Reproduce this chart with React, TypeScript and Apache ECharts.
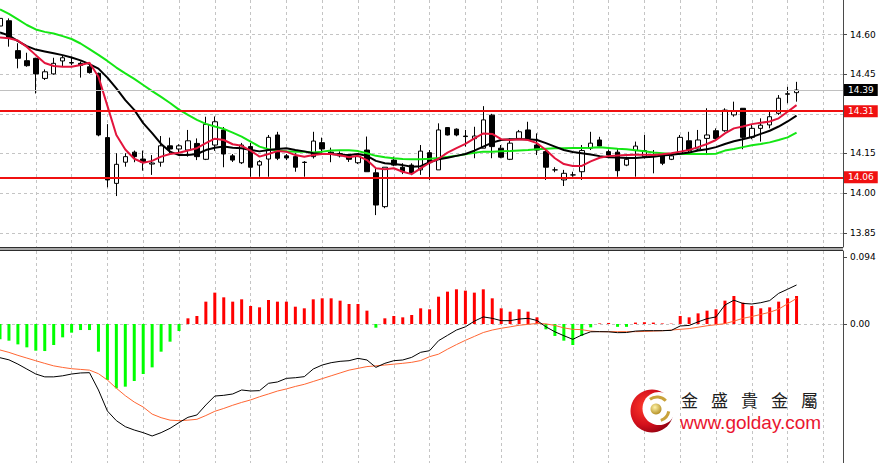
import React, { useEffect, useRef } from 'react';
import * as echarts from 'echarts';

// ---- Price candles (index 0..89) ----
const opens = [14.632,14.652,14.539,14.501,14.510,14.434,14.451,14.500,14.492,14.491,14.478,14.453,14.210,14.037,14.117,14.155,14.129,14.110,14.117,14.179,14.167,14.163,14.188,14.128,14.182,14.239,14.141,14.115,14.176,14.106,14.129,14.220,14.141,14.138,14.117,14.138,14.191,14.155,14.141,14.141,14.115,14.163,14.077,13.949,14.125,14.098,14.106,14.088,14.153,14.088,14.248,14.242,14.216,14.206,14.170,14.295,14.170,14.128,14.207,14.239,14.182,14.157,14.088,14.050,14.069,14.081,14.170,14.201,14.157,14.155,14.106,14.161,14.138,14.142,14.141,14.128,14.151,14.198,14.167,14.207,14.236,14.236,14.296,14.321,14.211,14.245,14.258,14.302,14.374,14.380];
const closes = [14.661,14.589,14.510,14.482,14.451,14.459,14.491,14.512,14.494,14.483,14.456,14.220,14.050,14.109,14.138,14.138,14.117,14.114,14.179,14.167,14.179,14.198,14.138,14.260,14.270,14.148,14.125,14.182,14.098,14.119,14.211,14.132,14.133,14.098,14.116,14.197,14.167,14.147,14.150,14.128,14.138,14.081,13.955,14.098,14.106,14.081,14.075,14.159,14.115,14.239,14.220,14.220,14.214,14.216,14.277,14.176,14.136,14.189,14.232,14.207,14.163,14.098,14.088,14.075,14.069,14.161,14.189,14.178,14.144,14.085,14.128,14.178,14.161,14.146,14.113,14.141,14.211,14.161,14.201,14.220,14.207,14.314,14.311,14.211,14.245,14.257,14.289,14.359,14.376,14.390];
const lows = [14.625,14.554,14.472,14.478,14.377,14.428,14.448,14.478,14.484,14.437,14.452,14.215,14.022,13.989,14.100,14.117,14.085,14.069,14.100,14.151,14.151,14.138,14.125,14.125,14.160,14.098,14.118,14.110,14.062,14.062,14.062,14.125,14.125,14.081,14.062,14.131,14.146,14.117,14.135,14.118,14.110,14.081,13.917,13.943,14.102,14.072,14.068,14.069,14.050,14.088,14.218,14.215,14.176,14.132,14.170,14.132,14.132,14.125,14.201,14.201,14.144,14.050,14.079,14.027,14.062,14.050,14.163,14.176,14.140,14.062,14.102,14.062,14.131,14.075,14.106,14.125,14.144,14.151,14.163,14.144,14.201,14.232,14.289,14.166,14.204,14.195,14.245,14.296,14.340,14.346];
const highs = [14.690,14.661,14.567,14.531,14.512,14.468,14.512,14.519,14.516,14.498,14.487,14.456,14.261,14.151,14.151,14.161,14.161,14.144,14.216,14.210,14.185,14.239,14.207,14.289,14.290,14.250,14.148,14.190,14.190,14.125,14.220,14.232,14.148,14.151,14.121,14.232,14.210,14.172,14.158,14.148,14.146,14.214,14.098,14.098,14.138,14.113,14.113,14.182,14.163,14.264,14.250,14.245,14.239,14.251,14.329,14.300,14.182,14.207,14.239,14.270,14.226,14.163,14.098,14.088,14.081,14.182,14.232,14.213,14.165,14.168,14.138,14.195,14.220,14.163,14.148,14.145,14.220,14.232,14.239,14.321,14.245,14.321,14.346,14.321,14.260,14.283,14.308,14.371,14.402,14.421];

// ---- Moving averages ----
const maRed = [14.589,14.586,14.577,14.553,14.522,14.492,14.481,14.478,14.478,14.485,14.493,14.440,14.330,14.220,14.165,14.130,14.115,14.122,14.138,14.148,14.153,14.161,14.170,14.189,14.206,14.201,14.185,14.179,14.161,14.138,14.148,14.159,14.157,14.144,14.138,14.144,14.148,14.148,14.143,14.136,14.141,14.125,14.094,14.090,14.094,14.081,14.072,14.094,14.115,14.130,14.153,14.170,14.186,14.207,14.226,14.224,14.204,14.201,14.204,14.201,14.189,14.163,14.132,14.110,14.103,14.103,14.120,14.134,14.140,14.142,14.144,14.145,14.145,14.144,14.147,14.151,14.157,14.163,14.174,14.186,14.201,14.226,14.245,14.252,14.261,14.266,14.271,14.283,14.308,14.333];
const maBlack = [14.608,14.596,14.575,14.556,14.543,14.536,14.529,14.522,14.513,14.502,14.488,14.471,14.437,14.396,14.352,14.315,14.265,14.227,14.186,14.157,14.144,14.144,14.148,14.163,14.172,14.176,14.172,14.170,14.163,14.158,14.163,14.167,14.170,14.163,14.158,14.151,14.148,14.148,14.145,14.144,14.148,14.141,14.122,14.113,14.110,14.106,14.100,14.102,14.117,14.128,14.134,14.141,14.148,14.161,14.176,14.191,14.201,14.204,14.204,14.204,14.201,14.189,14.176,14.163,14.156,14.151,14.146,14.140,14.136,14.135,14.133,14.133,14.136,14.138,14.142,14.145,14.149,14.154,14.161,14.166,14.174,14.186,14.196,14.204,14.212,14.224,14.236,14.252,14.271,14.293];
const maGreen = [14.695,14.678,14.657,14.636,14.619,14.610,14.604,14.594,14.583,14.566,14.545,14.523,14.500,14.475,14.453,14.432,14.409,14.386,14.364,14.341,14.316,14.296,14.277,14.262,14.252,14.243,14.229,14.214,14.195,14.176,14.166,14.161,14.158,14.157,14.157,14.154,14.157,14.161,14.162,14.162,14.159,14.151,14.141,14.136,14.132,14.129,14.128,14.128,14.130,14.133,14.137,14.141,14.147,14.153,14.157,14.157,14.158,14.159,14.161,14.163,14.166,14.168,14.170,14.170,14.171,14.171,14.172,14.174,14.171,14.168,14.166,14.162,14.158,14.154,14.151,14.148,14.148,14.148,14.148,14.148,14.149,14.161,14.167,14.174,14.181,14.186,14.192,14.201,14.211,14.229];

// ---- MACD pane ----
const macdHist = [-0.0216,-0.0235,-0.0287,-0.0329,-0.0376,-0.0381,-0.0296,-0.0188,-0.0122,-0.0085,-0.0085,-0.0390,-0.0789,-0.0907,-0.0883,-0.0803,-0.0705,-0.0611,-0.0390,-0.0249,-0.0099,0.0080,0.0113,0.0315,0.0442,0.0376,0.0315,0.0348,0.0254,0.0235,0.0338,0.0315,0.0315,0.0244,0.0221,0.0348,0.0362,0.0362,0.0329,0.0282,0.0282,0.0188,-0.0052,0.0080,0.0113,0.0094,0.0127,0.0221,0.0207,0.0385,0.0456,0.0489,0.0470,0.0442,0.0489,0.0362,0.0221,0.0174,0.0207,0.0174,0.0094,-0.0075,-0.0169,-0.0235,-0.0296,-0.0169,-0.0047,0.0008,0.0015,-0.0040,-0.0040,0.0020,0.0025,0.0020,0.0008,0.0005,0.0113,0.0094,0.0150,0.0188,0.0207,0.0329,0.0395,0.0301,0.0254,0.0221,0.0235,0.0315,0.0362,0.0395];
const macdMain = [-0.0475,-0.0505,-0.0565,-0.0635,-0.0705,-0.0745,-0.0745,-0.0730,-0.0705,-0.0690,-0.0686,-0.0930,-0.1226,-0.1362,-0.1447,-0.1494,-0.1531,-0.1578,-0.1531,-0.1470,-0.1390,-0.1315,-0.1282,-0.1141,-0.1015,-0.1005,-0.0986,-0.0930,-0.0944,-0.0939,-0.0836,-0.0817,-0.0766,-0.0757,-0.0742,-0.0634,-0.0578,-0.0545,-0.0526,-0.0517,-0.0484,-0.0507,-0.0611,-0.0554,-0.0517,-0.0507,-0.0470,-0.0399,-0.0376,-0.0235,-0.0160,-0.0085,-0.0040,0.0040,0.0100,0.0080,0.0047,0.0047,0.0070,0.0080,0.0050,-0.0040,-0.0110,-0.0165,-0.0216,-0.0155,-0.0110,-0.0108,-0.0110,-0.0122,-0.0120,-0.0100,-0.0094,-0.0094,-0.0094,-0.0090,-0.0028,-0.0020,0.0030,0.0075,0.0100,0.0268,0.0335,0.0290,0.0282,0.0300,0.0330,0.0432,0.0490,0.0550];
const macdSignal = [-0.0366,-0.0400,-0.0442,-0.0480,-0.0518,-0.0555,-0.0590,-0.0612,-0.0630,-0.0640,-0.0650,-0.0700,-0.0790,-0.0905,-0.1010,-0.1100,-0.1170,-0.1270,-0.1320,-0.1355,-0.1362,-0.1355,-0.1343,-0.1290,-0.1230,-0.1190,-0.1145,-0.1105,-0.1070,-0.1025,-0.0986,-0.0945,-0.0915,-0.0880,-0.0850,-0.0810,-0.0770,-0.0730,-0.0690,-0.0650,-0.0625,-0.0600,-0.0590,-0.0578,-0.0566,-0.0554,-0.0540,-0.0515,-0.0460,-0.0425,-0.0355,-0.0290,-0.0230,-0.0175,-0.0120,-0.0085,-0.0060,-0.0040,-0.0018,-0.0005,0.0008,0.0002,-0.0020,-0.0055,-0.0075,-0.0080,-0.0100,-0.0108,-0.0108,-0.0108,-0.0108,-0.0108,-0.0105,-0.0100,-0.0095,-0.0085,-0.0075,-0.0065,-0.0045,-0.0025,-0.0010,0.0005,0.0040,0.0080,0.0105,0.0135,0.0165,0.0210,0.0285,0.0360];

// ---- Axis ticks and levels ----
const priceTicks = [13.85, 14.0, 14.15, 14.3, 14.45, 14.6];
const macdTicks = [0, 0.094];
const levelLines = [14.314, 14.06];
const lastPrice = 14.39;
const logoChars = ['金', '盛', '貴', '金', '屬'];
const logoUrl = 'www.golday.com';

const FONT = 'DejaVu Sans';

export default function App() {
  const ref = useRef<HTMLDivElement>(null);
  useEffect(() => {
    document.body.style.margin = '0';
    if (!ref.current) return;
    const chart = echarts.init(ref.current, null, { renderer: 'svg' });
    const xMax = 843 / 8.95;
    const candleData = opens.map((o, i) => [i, o, closes[i], lows[i], highs[i]]);
    const pts = (arr: number[]) => arr.map((v, i) => [i, v]);
    const gridLine = { color: '#c4c4c4', type: [3, 3] as any, width: 1 };
    const labelBox = (bg: string) => ({
      show: true,
      position: 'end',
      distance: 1,
      backgroundColor: bg,
      color: '#ffffff',
      fontFamily: FONT,
      fontSize: 9,
      padding: [1, 4, 1, 4],
      lineHeight: 10,
    });
    const xAxisDef = (gi: number) => ({
      type: 'value',
      gridIndex: gi,
      min: 0,
      max: xMax,
      interval: 4,
      axisLine: { show: false, onZero: false },
      axisTick: { show: false },
      axisLabel: { show: false },
      splitLine: { show: true, showMinLine: false, showMaxLine: false, lineStyle: gridLine },
    });
    const option: any = {
      animation: false,
      backgroundColor: '#ffffff',
      grid: [
        { left: 0, right: 38, top: 0, height: 247 },
        { left: 0, right: 38, top: 251, height: 212 },
      ],
      xAxis: [xAxisDef(0), xAxisDef(1)],
      yAxis: [
        {
          type: 'value',
          gridIndex: 0,
          position: 'right',
          min: 13.7963,
          max: 14.7305,
          axisLine: { show: true, onZero: false, lineStyle: { color: '#4a4a4a', width: 1 } },
          axisTick: { show: true, length: 4, customValues: priceTicks, lineStyle: { color: '#4a4a4a' } },
          axisLabel: {
            show: true,
            customValues: priceTicks,
            formatter: (v: number) => v.toFixed(2),
            margin: 7,
            color: '#000000',
            fontFamily: FONT,
            fontSize: 9,
          },
          splitLine: { show: true, lineStyle: gridLine },
        },
        {
          type: 'value',
          gridIndex: 1,
          position: 'right',
          min: -0.19588,
          max: 0.10288,
          axisLine: { show: true, onZero: false, lineStyle: { color: '#4a4a4a', width: 1 } },
          axisTick: { show: true, length: 4, customValues: macdTicks, lineStyle: { color: '#4a4a4a' } },
          axisLabel: {
            show: true,
            customValues: macdTicks,
            formatter: (v: number) => (v === 0 ? '0.00' : v.toFixed(3)),
            margin: 7,
            color: '#000000',
            fontFamily: FONT,
            fontSize: 9,
          },
          splitLine: { show: false },
        },
      ],
      series: [
        {
          type: 'candlestick',
          xAxisIndex: 0,
          yAxisIndex: 0,
          barWidth: 5,
          data: candleData,
          itemStyle: {
            color: '#ffffff',
            color0: '#000000',
            borderColor: '#000000',
            borderColor0: '#000000',
            borderColorDoji: '#000000',
            borderWidth: 1,
          },
          markLine: {
            silent: true,
            symbol: ['none', 'none'],
            animation: false,
            data: [
              {
                yAxis: lastPrice,
                lineStyle: { color: '#c0c0c0', width: 1, type: 'solid' },
                label: { ...labelBox('#000000'), formatter: lastPrice.toFixed(2) },
              },
              ...levelLines.map((v) => ({
                yAxis: v,
                lineStyle: { color: '#f01010', width: 2, type: 'solid' },
                label: { ...labelBox('#f01010'), formatter: v.toFixed(2) },
              })),
            ],
          },
        },
        {
          type: 'line', xAxisIndex: 0, yAxisIndex: 0, data: pts(maGreen), showSymbol: false, symbol: 'none',
          lineStyle: { color: '#14e614', width: 2 },
        },
        {
          type: 'line', xAxisIndex: 0, yAxisIndex: 0, data: pts(maBlack), showSymbol: false, symbol: 'none',
          lineStyle: { color: '#000000', width: 2 },
        },
        {
          type: 'line', xAxisIndex: 0, yAxisIndex: 0, data: pts(maRed), showSymbol: false, symbol: 'none',
          lineStyle: { color: '#e3143c', width: 2 },
        },
        {
          type: 'bar',
          xAxisIndex: 1,
          yAxisIndex: 1,
          barWidth: 3,
          data: macdHist.map((v, i) => ({ value: [i, v], itemStyle: { color: v >= 0 ? '#ff0000' : '#00ff00' } })),
          markLine: {
            silent: true,
            z: 1,
            symbol: ['none', 'none'],
            animation: false,
            label: { show: false },
            data: [{ yAxis: 0, lineStyle: { color: '#c4c4c4', width: 1, type: [3, 3] } }],
          },
        },
        {
          type: 'line', xAxisIndex: 1, yAxisIndex: 1, data: pts(macdSignal), showSymbol: false, symbol: 'none',
          lineStyle: { color: '#ff6633', width: 1 },
        },
        {
          type: 'line', xAxisIndex: 1, yAxisIndex: 1, data: pts(macdMain), showSymbol: false, symbol: 'none',
          lineStyle: { color: '#000000', width: 1 },
        },
      ],
      graphic: [
        { type: 'line', shape: { x1: 0, y1: 247.5, x2: 843, y2: 247.5 }, style: { stroke: '#2e2e2e', lineWidth: 1 }, z: 10 },
        { type: 'line', shape: { x1: 0, y1: 249, x2: 843, y2: 249 }, style: { stroke: '#a8a8a8', lineWidth: 2 }, z: 10 },
        { type: 'line', shape: { x1: 0, y1: 250.5, x2: 843, y2: 250.5 }, style: { stroke: '#2e2e2e', lineWidth: 1 }, z: 10 },
        {
          type: 'circle', z: 20, shape: { cx: 652, cy: 411, r: 21.5 },
          style: {
            fill: new echarts.graphic.RadialGradient(0.35, 0.4, 0.7, [
              { offset: 0, color: '#ff3a2a' },
              { offset: 0.6, color: '#d4101c' },
              { offset: 1, color: '#8a0010' },
            ]),
          },
        },
        { type: 'circle', z: 21, shape: { cx: 659, cy: 408.5, r: 16.5 }, style: { fill: '#ffffff' } },
        {
          type: 'arc', z: 22, shape: { cx: 657, cy: 409, r: 12, startAngle: -2.2, endAngle: -0.75 },
          style: { stroke: '#c9a23a', lineWidth: 3, fill: 'none' },
        },
        {
          type: 'arc', z: 22, shape: { cx: 657, cy: 409, r: 12, startAngle: 0.2, endAngle: 1.25 },
          style: { stroke: '#c9a23a', lineWidth: 3, fill: 'none' },
        },
        {
          type: 'circle', z: 23, shape: { cx: 656, cy: 409, r: 5.5 },
          style: {
            fill: new echarts.graphic.RadialGradient(0.4, 0.35, 0.7, [
              { offset: 0, color: '#fff4a8' },
              { offset: 1, color: '#b08a1e' },
            ]),
          },
        },
        ...logoChars.map((c, k) => ({
          type: 'text', z: 24,
          style: {
            text: c, x: 681 + k * 30, y: 399.5, fill: '#1e1e1e',
            font: '17px "Noto Sans CJK TC"', textAlign: 'left', textVerticalAlign: 'middle',
          },
        })),
        {
          type: 'text', z: 24,
          style: {
            text: logoUrl, x: 680, y: 422, fill: '#ea1530',
            font: '19px "Liberation Sans"', textAlign: 'left', textVerticalAlign: 'middle',
          },
        },
      ],
    };
    chart.setOption(option);
    return () => chart.dispose();
  }, []);
  return <div ref={ref} style={{ width: 881, height: 463 }} />;
}
